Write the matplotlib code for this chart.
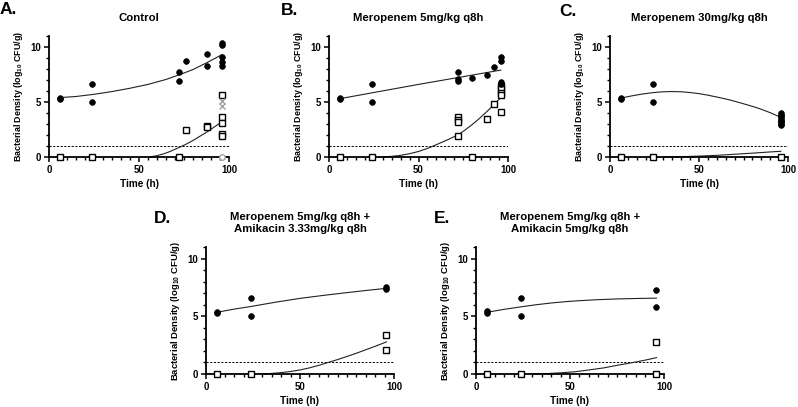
import matplotlib
matplotlib.use("Agg")
import matplotlib.pyplot as plt
from matplotlib.ticker import MultipleLocator

plt.rcParams['font.family'] = ['Liberation Sans', 'DejaVu Sans']
plt.rcParams['font.weight'] = 'bold'
plt.rcParams['mathtext.fontset'] = 'custom'
plt.rcParams['mathtext.rm'] = 'Liberation Sans:bold'
plt.rcParams['mathtext.default'] = 'rm'

# ---------------- data ----------------
titles = ["Control", "Meropenem 5mg/kg q8h", "Meropenem 30mg/kg q8h",
          "Meropenem 5mg/kg q8h +\nAmikacin 3.33mg/kg q8h",
          "Meropenem 5mg/kg q8h +\nAmikacin 5mg/kg q8h"]
letters = ["A.", "B.", "C.", "D.", "E."]

# Panel A (Control)
A_circ_t = [6, 6, 24, 24, 72, 72, 76, 88, 88, 96, 96, 96, 96, 96]
A_circ_y = [5.4, 5.3, 6.6, 5.0, 7.7, 6.95, 8.7, 9.35, 8.3, 10.35, 10.2, 9.1, 8.6, 8.3]
A_sq_t = [6, 24, 72, 76, 88, 88, 96, 96, 96, 96, 96]
A_sq_y = [0, 0, 0, 2.5, 2.85, 2.75, 5.6, 3.6, 3.1, 2.05, 1.95]
A_grey_x_t = [96, 96]
A_grey_x_y = [5.1, 4.65]
A_grey_o_t = [96]
A_grey_o_y = [0]
A_fit1_t = [6, 15, 25, 35, 45, 55, 65, 72, 80, 88, 96]
A_fit1_y = [5.4, 5.5, 5.7, 5.95, 6.25, 6.6, 7.05, 7.45, 7.95, 8.6, 9.3]
A_fit2_t = [56, 60, 64, 68, 72, 76, 80, 84, 88, 92, 96]
A_fit2_y = [0, 0.12, 0.3, 0.55, 0.85, 1.15, 1.5, 1.9, 2.3, 2.75, 3.2]

# Panel B
B_circ_t = [6, 6, 24, 24, 72, 72, 72, 80, 88, 92, 96, 96, 96, 96]
B_circ_y = [5.4, 5.3, 6.6, 5.0, 7.7, 7.05, 6.9, 7.2, 7.45, 8.15, 9.1, 8.7, 6.8, 6.65]
B_sq_t = [6, 24, 72, 72, 72, 72, 80, 88, 92, 96, 96, 96, 96, 96]
B_sq_y = [0, 0, 3.6, 3.4, 3.2, 1.95, 0, 3.5, 4.8, 6.45, 6.15, 5.85, 5.6, 4.1]
B_fit1_t = [6, 50, 96]
B_fit1_y = [5.3, 6.6, 7.9]
B_fit2_t = [30, 35, 40, 45, 50, 55, 60, 66, 72, 76, 80, 84, 88, 92, 96]
B_fit2_y = [0, 0.06, 0.15, 0.3, 0.5, 0.78, 1.12, 1.55, 2.0, 2.45, 2.95, 3.5, 4.1, 4.75, 5.4]

# Panel C
C_circ_t = [6, 6, 24, 24, 96, 96, 96, 96, 96, 96, 96, 96, 96]
C_circ_y = [5.4, 5.3, 6.6, 5.0, 4.0, 3.85, 3.7, 3.55, 3.4, 3.3, 3.15, 3.0, 2.9]
C_sq_t = [6, 24, 96]
C_sq_y = [0, 0, 0]
C_fit1_t = [6, 12, 18, 24, 29, 34, 40, 45, 50, 55, 61, 67, 72, 78, 84, 90, 96]
C_fit1_y = [5.35, 5.55, 5.72, 5.85, 5.92, 5.95, 5.93, 5.86, 5.76, 5.62, 5.42, 5.2, 4.98, 4.7, 4.4, 4.03, 3.6]
C_fit2_t = [30, 40, 50, 60, 70, 80, 90, 96]
C_fit2_y = [0, 0.03, 0.08, 0.15, 0.25, 0.35, 0.46, 0.52]

# Panel D
D_circ_t = [6, 6, 24, 24, 96, 96]
D_circ_y = [5.4, 5.3, 6.6, 5.0, 7.5, 7.35]
D_sq_t = [6, 24, 96, 96]
D_sq_y = [0, 0, 3.4, 2.1]
D_fit1_t = [6, 15, 24, 37, 50, 62, 75, 86, 96]
D_fit1_y = [5.35, 5.62, 5.85, 6.22, 6.55, 6.8, 7.05, 7.25, 7.42]
D_fit2_t = [30, 35, 40, 45, 50, 55, 60, 65, 70, 75, 80, 85, 90, 96]
D_fit2_y = [0, 0.05, 0.12, 0.22, 0.35, 0.53, 0.75, 1.0, 1.25, 1.52, 1.8, 2.1, 2.4, 2.78]

# Panel E
E_circ_t = [6, 6, 24, 24, 96, 96]
E_circ_y = [5.45, 5.3, 6.6, 5.0, 7.25, 5.8]
E_sq_t = [6, 24, 96, 96]
E_sq_y = [0, 0, 2.8, 0]
E_fit1_t = [6, 15, 24, 32, 40, 48, 55, 65, 75, 85, 96]
E_fit1_y = [5.35, 5.6, 5.82, 6.0, 6.15, 6.27, 6.35, 6.44, 6.5, 6.54, 6.57]
E_fit2_t = [30, 38, 45, 53, 60, 68, 75, 83, 90, 96]
E_fit2_y = [0, 0.04, 0.1, 0.2, 0.35, 0.53, 0.75, 0.98, 1.2, 1.42]

LOD = 1.0

panels = [
    (A_circ_t, A_circ_y, A_sq_t, A_sq_y, A_fit1_t, A_fit1_y, A_fit2_t, A_fit2_y),
    (B_circ_t, B_circ_y, B_sq_t, B_sq_y, B_fit1_t, B_fit1_y, B_fit2_t, B_fit2_y),
    (C_circ_t, C_circ_y, C_sq_t, C_sq_y, C_fit1_t, C_fit1_y, C_fit2_t, C_fit2_y),
    (D_circ_t, D_circ_y, D_sq_t, D_sq_y, D_fit1_t, D_fit1_y, D_fit2_t, D_fit2_y),
    (E_circ_t, E_circ_y, E_sq_t, E_sq_y, E_fit1_t, E_fit1_y, E_fit2_t, E_fit2_y),
]

# ---------------- layout (pixels) ----------------
W, H = 798, 407
# (x0, x100, y0, ytop)
boxes = [(49, 229, 157, 36), (329, 508, 157, 36), (610, 788, 157, 36),
         (206, 394, 374, 247), (476, 664, 374, 247)]
letter_pos = [(0, 2), (281, 3), (559, 4), (154, 211), (434, 211)]
ylab_size = [6.4, 6.4, 6.4, 6.8, 6.8]

fig = plt.figure(figsize=(W / 100, H / 100), dpi=100)

for i, (box, data) in enumerate(zip(boxes, panels)):
    x0, x1, y0, yt = box
    ax = fig.add_axes([x0 / W, (H - y0) / H, (x1 - x0) / W, (y0 - yt) / H])
    ct, cy, st, sy, f1t, f1y, f2t, f2y = data
    ax.set_xlim(0, 100)
    ax.set_ylim(0, 11)
    ax.axhline(LOD, color='black', lw=0.7, ls=(0, (2.2, 1.6)), zorder=1)
    ax.plot(f1t, f1y, color='#222222', lw=0.8, zorder=2, clip_on=False)
    ax.plot(f2t, f2y, color='#222222', lw=0.8, zorder=2, clip_on=False)
    ax.plot(st, sy, ls='none', marker='s', ms=4.6, mfc='white', mec='black',
            mew=1.0, zorder=3, clip_on=False)
    ax.plot(ct, cy, ls='none', marker='o', ms=4.1, mfc='black', mec='black',
            mew=0.5, zorder=4, clip_on=False)
    if i == 0:
        ax.plot(A_grey_x_t, A_grey_x_y, ls='none', marker='x', ms=3.8,
                mec='#9a9a9a', mew=0.9, zorder=4, clip_on=False)
        ax.plot(A_grey_o_t, A_grey_o_y, ls='none', marker='o', ms=4.0,
                mfc='white', mec='#9a9a9a', mew=0.9, zorder=5, clip_on=False)

    for s in ['top', 'right']:
        ax.spines[s].set_visible(False)
    for s in ['left', 'bottom']:
        ax.spines[s].set_linewidth(1.3)
    ax.xaxis.set_major_locator(MultipleLocator(50))
    ax.xaxis.set_minor_locator(MultipleLocator(5))
    ax.yaxis.set_major_locator(MultipleLocator(5))
    ax.yaxis.set_minor_locator(MultipleLocator(1))
    ax.set_yticks([0, 5, 10])
    ax.tick_params(which='major', length=3.5, width=1.1, labelsize=6.9, pad=2)
    ax.tick_params(which='minor', length=2.2, width=1.0)
    for lab in ax.get_xticklabels() + ax.get_yticklabels():
        lab.set_fontweight('bold')
    ax.set_xlabel("Time (h)", fontsize=7.2, fontweight='bold', labelpad=3)
    ax.set_ylabel("Bacterial Density (log$_{10}$ CFU/g)", fontsize=ylab_size[i],
                  fontweight='bold', labelpad=4)
    ax.set_title(titles[i], fontsize=8.2, fontweight='bold', pad=11,
                 linespacing=1.2)
    lx, ly = letter_pos[i]
    fig.text(lx / W, 1 - ly / H, letters[i], fontsize=12.5, fontweight='bold',
             ha='left', va='top')

fig.savefig("out.png", dpi=100)
